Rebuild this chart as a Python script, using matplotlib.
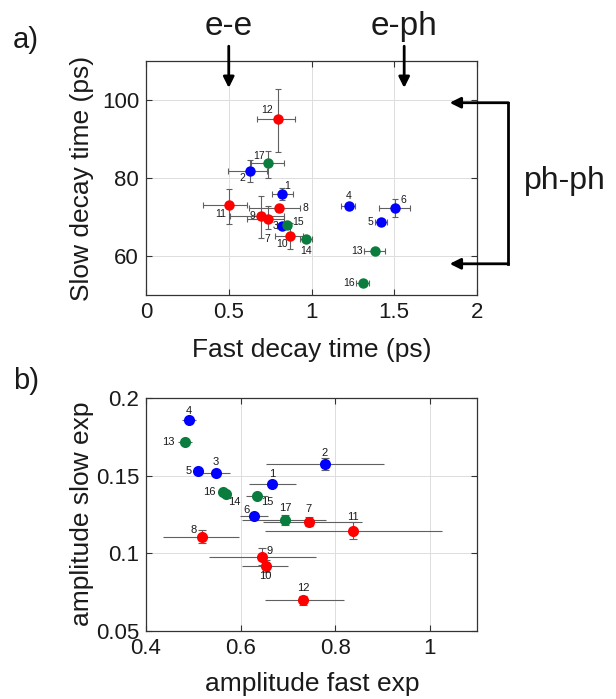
import numpy as np
import matplotlib
matplotlib.use('Agg')
import matplotlib.pyplot as plt

plt.rcParams['font.family'] = ['Liberation Sans', 'DejaVu Sans']
plt.rcParams['text.color'] = '#1a1a1a'
plt.rcParams['xtick.labelcolor'] = '#1a1a1a'
plt.rcParams['ytick.labelcolor'] = '#1a1a1a'

# sample numbers and groups (1-6 blue, 7-12 red, 13-17 green)
ids = list(range(1, 18))
group_colors = ['#0000ff'] * 6 + ['#ff0000'] * 6 + ['#0a7d3e'] * 5

# panel a: decay times
fast_tau = [0.821, 0.629, 0.823, 1.224, 1.421, 1.505, 0.735, 0.805, 0.695,
            0.869, 0.504, 0.799, 1.382, 0.965, 0.849, 1.310, 0.735]
slow_tau = [75.9, 81.8, 67.6, 72.8, 68.6, 72.4, 69.6, 72.2, 70.3,
            65.2, 73.1, 95.1, 61.4, 64.4, 67.9, 53.0, 83.9]
fast_tau_lo = [0.062, 0.131, 0.03, 0.044, 0.035, 0.099, 0.126, 0.181, 0.187,
               0.09, 0.16, 0.127, 0.062, 0.035, 0.03, 0.04, 0.10]
fast_tau_hi = [0.068, 0.100, 0.03, 0.041, 0.035, 0.090, 0.098, 0.124, 0.138,
               0.078, 0.108, 0.100, 0.063, 0.035, 0.03, 0.04, 0.096]
slow_tau_lo = [1.5, 2.7, 0.8, 0.5, 0.5, 2.4, 2.7, 1.0, 5.8,
               3.3, 4.9, 8.5, 0.5, 0.5, 0.8, 0.3, 3.9]
slow_tau_hi = [1.5, 2.7, 0.8, 0.5, 0.5, 2.2, 3.1, 1.0, 5.1,
               3.3, 4.2, 7.6, 0.5, 0.5, 0.8, 0.3, 3.1]

# panel b: amplitudes
amp_fast = [0.667, 0.778, 0.547, 0.491, 0.511, 0.628, 0.744, 0.518, 0.646,
            0.653, 0.837, 0.733, 0.482, 0.570, 0.634, 0.562, 0.694]
amp_slow = [0.1445, 0.1575, 0.1515, 0.1859, 0.1532, 0.1242, 0.1204, 0.1107, 0.0978,
            0.0918, 0.1146, 0.0697, 0.1719, 0.1382, 0.1371, 0.1397, 0.1215]
amp_fast_lo = [0.049, 0.125, 0.03, 0.015, 0.01, 0.029, 0.097, 0.081, 0.113,
               0.05, 0.185, 0.082, 0.015, 0.01, 0.023, 0.01, 0.091]
amp_fast_hi = [0.050, 0.125, 0.03, 0.015, 0.01, 0.031, 0.113, 0.079, 0.114,
               0.048, 0.189, 0.085, 0.015, 0.01, 0.023, 0.01, 0.086]
amp_slow_err = [0.001, 0.004, 0.001, 0.001, 0.001, 0.001, 0.003, 0.004, 0.0054,
                0.004, 0.0054, 0.003, 0.001, 0.001, 0.001, 0.001, 0.003]

# label offsets in pixels (dx, dy)
offs_a = {1: (5, 8), 2: (-8, -7), 3: (-7, 0), 4: (0, 10), 5: (-11, 0), 6: (8, 8),
          7: (0, -20), 8: (26, 0), 9: (-9, 0), 10: (-8, -8), 11: (-9, -9), 12: (-11, 9),
          13: (-18, 0), 14: (0, -12), 15: (12, 3), 16: (-14, 0), 17: (-9, 7)}
offs_b = {1: (0, 10), 2: (0, 11), 3: (0, 11), 4: (0, 9), 5: (-10, 0), 6: (-7, 6),
          7: (0, 13), 8: (-8, 7), 9: (7, 6), 10: (0, -10), 11: (0, 14), 12: (0, 12),
          13: (-16, 0), 14: (8, -8), 15: (11, -6), 16: (-13, 0), 17: (0, 12)}

W, H = 616, 699
fig = plt.figure(figsize=(W / 100, H / 100), dpi=100)
ax1 = fig.add_axes([146 / W, 1 - 295 / H, 331 / W, 234 / H])
ax2 = fig.add_axes([146 / W, 1 - 631 / H, 331 / W, 233 / H])

ecol = '#606060'
for ax in (ax1, ax2):
    ax.grid(True, color='#dddddd', lw=0.7)
    ax.set_axisbelow(True)
    ax.tick_params(direction='in', top=True, right=True, length=4, width=0.8,
                   labelsize=16, pad=5, color='#333333')
    for s in ax.spines.values():
        s.set_color('#333333')
        s.set_linewidth(0.9)

# panel a
for i in range(len(ids)):
    ax1.errorbar(fast_tau[i], slow_tau[i],
                 xerr=[[fast_tau_lo[i]], [fast_tau_hi[i]]],
                 yerr=[[slow_tau_lo[i]], [slow_tau_hi[i]]],
                 fmt='none', ecolor=ecol, elinewidth=0.8, capsize=2.2, capthick=0.8)
for i in range(len(ids)):
    ax1.plot(fast_tau[i], slow_tau[i], 'o', color=group_colors[i], ms=7.5, mew=0)
    dx, dy = offs_a[ids[i]]
    ax1.annotate(str(ids[i]), (fast_tau[i], slow_tau[i]), xytext=(dx, dy),
                 textcoords='offset pixels', ha='center', va='center', fontsize=7.5)

ax1.set_xlim(0, 2)
ax1.set_ylim(50, 110)
ax1.set_xticks([0, 0.5, 1, 1.5, 2])
ax1.set_xticklabels(['0', '0.5', '1', '1.5', '2'])
ax1.set_yticks([60, 80, 100])

# panel b
for i in range(len(ids)):
    ax2.errorbar(amp_fast[i], amp_slow[i],
                 xerr=[[amp_fast_lo[i]], [amp_fast_hi[i]]],
                 fmt='none', ecolor=ecol, elinewidth=0.8, capsize=0)
    ax2.errorbar(amp_fast[i], amp_slow[i], yerr=amp_slow_err[i],
                 fmt='none', ecolor=ecol, elinewidth=0.8, capsize=2.8, capthick=0.8)
for i in range(len(ids)):
    ax2.plot(amp_fast[i], amp_slow[i], 'o', color=group_colors[i], ms=8, mew=0)
    dx, dy = offs_b[ids[i]]
    ax2.annotate(str(ids[i]), (amp_fast[i], amp_slow[i]), xytext=(dx, dy),
                 textcoords='offset pixels', ha='center', va='center', fontsize=8)

ax2.set_xlim(0.4, 1.1)
ax2.set_ylim(0.05, 0.2)
ax2.set_xticks([0.4, 0.6, 0.8, 1.0])
ax2.set_xticklabels(['0.4', '0.6', '0.8', '1'])
ax2.set_yticks([0.05, 0.1, 0.15, 0.2])
ax2.set_yticklabels(['0.05', '0.1', '0.15', '0.2'])

# axis labels and panel letters
fig.text(312 / W, 1 - 350 / H, 'Fast decay time (ps)', ha='center', va='center', fontsize=19)
fig.text(82 / W, 1 - 178 / H, 'Slow decay time (ps)', ha='center', va='center',
         rotation=90, fontsize=19)
fig.text(312 / W, 1 - 684 / H, 'amplitude fast exp', ha='center', va='center', fontsize=19)
fig.text(82 / W, 1 - 514 / H, 'amplitude slow exp', ha='center', va='center',
         rotation=90, fontsize=19)
fig.text(26 / W, 1 - 40 / H, 'a)', ha='center', va='center', fontsize=21)
fig.text(26 / W, 1 - 381 / H, 'b)', ha='center', va='center', fontsize=21)

# scattering-process arrows
arw = dict(arrowstyle='-|>', color='k', lw=2, mutation_scale=16, shrinkA=0, shrinkB=0)
for xpos, name in [(0.5, 'e-e'), (1.56, 'e-ph')]:
    ax1.annotate('', xy=(xpos, 103.1), xytext=(xpos, 113.8), arrowprops=arw,
                 annotation_clip=False)
    ax1.text(xpos, 118.8, name, ha='center', va='center', fontsize=24, clip_on=False)

bx = 2.19
ax1.plot([bx, bx], [99.3, 58.0], color='k', lw=2, clip_on=False, solid_capstyle='projecting')
for yy in (99.3, 58.0):
    ax1.annotate('', xy=(1.835, yy), xytext=(bx, yy), arrowprops=arw,
                 annotation_clip=False)
fig.text(524 / W, 1 - 181 / H, 'ph-ph', ha='left', va='center', fontsize=23)

fig.savefig('out.png', dpi=100)
